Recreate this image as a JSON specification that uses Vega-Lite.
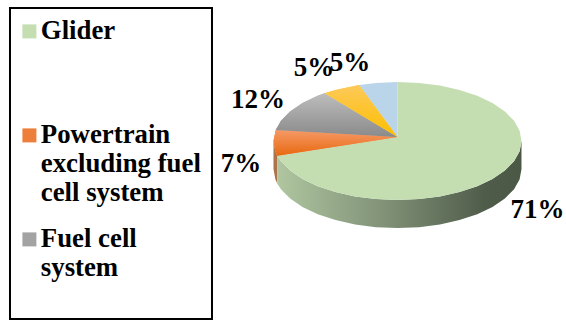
{
  "$schema": "https://vega.github.io/schema/vega-lite/v6.json",
  "width": 566,
  "height": 320,
  "autosize": "none",
  "padding": 0,
  "background": "white",
  "view": {"stroke": null},
  "config": {"axis": {"grid": false}},
  "datasets": {
    "frame": [
      {"x": -3.125, "x2": -1.496, "y": 2.254, "y2": -3.017}
    ],
    "wall": [
      {"part": "rim", "n": 1, "x": 1, "y": 0}, {"part": "rim", "n": 2, "x": 0.985, "y": -0.174},
      {"part": "rim", "n": 3, "x": 0.94, "y": -0.342}, {"part": "rim", "n": 4, "x": 0.866, "y": -0.5},
      {"part": "rim", "n": 5, "x": 0.766, "y": -0.643}, {"part": "rim", "n": 6, "x": 0.643, "y": -0.766},
      {"part": "rim", "n": 7, "x": 0.5, "y": -0.866}, {"part": "rim", "n": 8, "x": 0.342, "y": -0.94},
      {"part": "rim", "n": 9, "x": 0.174, "y": -0.985}, {"part": "rim", "n": 10, "x": 0, "y": -1},
      {"part": "rim", "n": 11, "x": -0.174, "y": -0.985}, {"part": "rim", "n": 12, "x": -0.342, "y": -0.94},
      {"part": "rim", "n": 13, "x": -0.5, "y": -0.866}, {"part": "rim", "n": 14, "x": -0.643, "y": -0.766},
      {"part": "rim", "n": 15, "x": -0.766, "y": -0.643}, {"part": "rim", "n": 16, "x": -0.866, "y": -0.5},
      {"part": "rim", "n": 17, "x": -0.94, "y": -0.342}, {"part": "rim", "n": 18, "x": -0.969, "y": -0.249},
      {"part": "rim", "n": 19, "x": -0.969, "y": -0.724}, {"part": "rim", "n": 20, "x": -0.94, "y": -0.817},
      {"part": "rim", "n": 21, "x": -0.866, "y": -0.975}, {"part": "rim", "n": 22, "x": -0.766, "y": -1.118},
      {"part": "rim", "n": 23, "x": -0.643, "y": -1.241}, {"part": "rim", "n": 24, "x": -0.5, "y": -1.341},
      {"part": "rim", "n": 25, "x": -0.342, "y": -1.415}, {"part": "rim", "n": 26, "x": -0.174, "y": -1.46},
      {"part": "rim", "n": 27, "x": 0, "y": -1.475}, {"part": "rim", "n": 28, "x": 0.174, "y": -1.46},
      {"part": "rim", "n": 29, "x": 0.342, "y": -1.415}, {"part": "rim", "n": 30, "x": 0.5, "y": -1.341},
      {"part": "rim", "n": 31, "x": 0.643, "y": -1.241}, {"part": "rim", "n": 32, "x": 0.766, "y": -1.118},
      {"part": "rim", "n": 33, "x": 0.866, "y": -0.975}, {"part": "rim", "n": 34, "x": 0.94, "y": -0.817},
      {"part": "rim", "n": 35, "x": 0.985, "y": -0.649}, {"part": "rim", "n": 36, "x": 1, "y": -0.475}
    ],
    "sliver": [
      {"n": 1, "x": -0.969, "y": -0.249}, {"n": 2, "x": -0.985, "y": -0.174}, {"n": 3, "x": -1, "y": 0},
      {"n": 4, "x": -1, "y": -0.475}, {"n": 5, "x": -0.985, "y": -0.649}, {"n": 6, "x": -0.969, "y": -0.724}
    ],
    "slices": [
      {"part": "Glider", "n": 1, "x": 0, "y": 0.068}, {"part": "Glider", "n": 2, "x": 0, "y": 1},
      {"part": "Glider", "n": 3, "x": 0.174, "y": 0.985}, {"part": "Glider", "n": 4, "x": 0.342, "y": 0.94},
      {"part": "Glider", "n": 5, "x": 0.5, "y": 0.866}, {"part": "Glider", "n": 6, "x": 0.643, "y": 0.766},
      {"part": "Glider", "n": 7, "x": 0.766, "y": 0.643}, {"part": "Glider", "n": 8, "x": 0.866, "y": 0.5},
      {"part": "Glider", "n": 9, "x": 0.94, "y": 0.342}, {"part": "Glider", "n": 10, "x": 0.985, "y": 0.174},
      {"part": "Glider", "n": 11, "x": 1, "y": 0}, {"part": "Glider", "n": 12, "x": 0.985, "y": -0.174},
      {"part": "Glider", "n": 13, "x": 0.94, "y": -0.342}, {"part": "Glider", "n": 14, "x": 0.866, "y": -0.5},
      {"part": "Glider", "n": 15, "x": 0.766, "y": -0.643}, {"part": "Glider", "n": 16, "x": 0.643, "y": -0.766},
      {"part": "Glider", "n": 17, "x": 0.5, "y": -0.866}, {"part": "Glider", "n": 18, "x": 0.342, "y": -0.94},
      {"part": "Glider", "n": 19, "x": 0.174, "y": -0.985}, {"part": "Glider", "n": 20, "x": 0, "y": -1},
      {"part": "Glider", "n": 21, "x": -0.174, "y": -0.985}, {"part": "Glider", "n": 22, "x": -0.342, "y": -0.94},
      {"part": "Glider", "n": 23, "x": -0.5, "y": -0.866}, {"part": "Glider", "n": 24, "x": -0.643, "y": -0.766},
      {"part": "Glider", "n": 25, "x": -0.766, "y": -0.643}, {"part": "Glider", "n": 26, "x": -0.866, "y": -0.5},
      {"part": "Glider", "n": 27, "x": -0.94, "y": -0.342}, {"part": "Glider", "n": 28, "x": -0.969, "y": -0.249},

      {"part": "Powertrain excluding fuel cell system", "n": 1, "x": 0, "y": 0.068},
      {"part": "Powertrain excluding fuel cell system", "n": 2, "x": -0.969, "y": -0.249},
      {"part": "Powertrain excluding fuel cell system", "n": 3, "x": -0.985, "y": -0.174},
      {"part": "Powertrain excluding fuel cell system", "n": 4, "x": -1, "y": 0},
      {"part": "Powertrain excluding fuel cell system", "n": 5, "x": -0.982, "y": 0.187},

      {"part": "Fuel cell system", "n": 1, "x": 0, "y": 0.068}, {"part": "Fuel cell system", "n": 2, "x": -0.982, "y": 0.187},
      {"part": "Fuel cell system", "n": 3, "x": -0.94, "y": 0.342}, {"part": "Fuel cell system", "n": 4, "x": -0.866, "y": 0.5},
      {"part": "Fuel cell system", "n": 5, "x": -0.766, "y": 0.643}, {"part": "Fuel cell system", "n": 6, "x": -0.643, "y": 0.766},
      {"part": "Fuel cell system", "n": 7, "x": -0.588, "y": 0.809},

      {"part": "Fourth share", "n": 1, "x": 0, "y": 0.068}, {"part": "Fourth share", "n": 2, "x": -0.588, "y": 0.809},
      {"part": "Fourth share", "n": 3, "x": -0.5, "y": 0.866}, {"part": "Fourth share", "n": 4, "x": -0.309, "y": 0.951},

      {"part": "Fifth share", "n": 1, "x": 0, "y": 0.068}, {"part": "Fifth share", "n": 2, "x": -0.309, "y": 0.951},
      {"part": "Fifth share", "n": 3, "x": -0.174, "y": 0.985}, {"part": "Fifth share", "n": 4, "x": 0, "y": 1}
    ],
    "labels": [
      {"share": 0.71, "x": 1.129, "y": -1.169},
      {"share": 0.07, "x": -1.262, "y": -0.39},
      {"share": 0.12, "x": -1.125, "y": 0.695},
      {"share": 0.05, "x": -0.673, "y": 1.237},
      {"share": 0.05, "x": -0.383, "y": 1.322}
    ]
  },
  "encoding": {
    "x": {"field": "x", "type": "quantitative", "axis": null, "scale": {"domain": [-3.2056, 1.3589], "nice": false, "zero": false}},
    "y": {"field": "y", "type": "quantitative", "axis": null, "scale": {"domain": [-3.0339, 2.3898], "nice": false, "zero": false}},
    "order": {"field": "n", "type": "quantitative"}
  },
  "layer": [
    {
      "data": {"name": "frame"},
      "mark": {"type": "rect", "fill": "white", "stroke": "black", "strokeWidth": 2},
      "encoding": {
        "x2": {"field": "x2"},
        "y2": {"field": "y2"},
        "order": null
      }
    },
    {
      "data": {"name": "sliver"},
      "mark": {"type": "line", "fill": "#ac7448", "strokeWidth": 0}
    },
    {
      "data": {"name": "wall"},
      "mark": {
        "type": "line",
        "strokeWidth": 0,
        "fill": {
          "gradient": "linear", "x1": 0, "y1": 0, "x2": 1, "y2": 0,
          "stops": [
            {"offset": 0, "color": "#afc6a0"},
            {"offset": 0.45, "color": "#7f9076"},
            {"offset": 0.85, "color": "#4f5c4a"},
            {"offset": 1, "color": "#4c5846"}
          ]
        }
      }
    },
    {
      "data": {"name": "slices"},
      "mark": {"type": "line", "strokeWidth": 0},
      "encoding": {
        "fill": {
          "field": "part",
          "type": "nominal",
          "scale": {
            "domain": ["Glider", "Powertrain excluding fuel cell system", "Fuel cell system", "Fourth share", "Fifth share"],
            "range": ["#c4deb2", "#ee7f3a", "#a3a3a3", "#fdc63a", "#bad5ea"]
          },
          "legend": {
            "title": null,
            "orient": "none",
            "legendX": 16,
            "legendY": 18,
            "values": ["Glider", "Powertrain excluding fuel cell system", "Fuel cell system"],
            "padding": 0,
            "symbolType": "square",
            "symbolSize": 196,
            "symbolStrokeWidth": 0,
            "labelFont": "Liberation Serif",
            "labelFontWeight": "bold",
            "labelFontSize": 26.8,
            "labelColor": "black",
            "labelLimit": 400,
            "labelOffset": -2,
            "rowPadding": 19,
            "labelExpr": "datum.label == 'Glider' ? ['Glider', '', ''] : datum.label == 'Fuel cell system' ? ['Fuel cell', 'system'] : ['Powertrain', 'excluding fuel', 'cell system']"
          }
        }
      }
    },
    {
      "data": {"name": "slices"},
      "transform": [{"filter": "datum.part == 'Powertrain excluding fuel cell system'"}],
      "mark": {"type": "line", "strokeWidth": 0, "fill": {"gradient": "linear", "x1": 0, "y1": 0, "x2": 0, "y2": 1, "stops": [{"offset": 0, "color": "#f59a68"}, {"offset": 1, "color": "#e8690f"}]}}
    },
    {
      "data": {"name": "slices"},
      "transform": [{"filter": "datum.part == 'Fuel cell system'"}],
      "mark": {"type": "line", "strokeWidth": 0, "fill": {"gradient": "linear", "x1": 0, "y1": 0, "x2": 0, "y2": 1, "stops": [{"offset": 0, "color": "#bdbdbd"}, {"offset": 1, "color": "#8a8a8a"}]}}
    },
    {
      "data": {"name": "slices"},
      "transform": [{"filter": "datum.part == 'Fourth share'"}],
      "mark": {"type": "line", "strokeWidth": 0, "fill": {"gradient": "linear", "x1": 0, "y1": 0, "x2": 0, "y2": 1, "stops": [{"offset": 0, "color": "#fdc95a"}, {"offset": 1, "color": "#fdbf00"}]}}
    },
    {
      "data": {"name": "labels"},
      "mark": {"type": "text", "font": "Liberation Serif", "fontWeight": "bold", "fontSize": 27, "color": "black", "baseline": "middle"},
      "encoding": {
        "text": {"field": "share", "type": "quantitative", "format": ".0%"},
        "order": null
      }
    }
  ]
}
